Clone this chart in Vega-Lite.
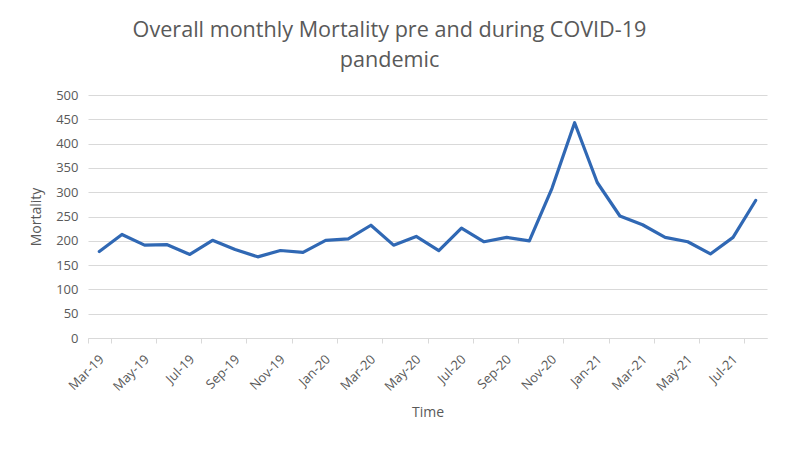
{
  "$schema": "https://vega.github.io/schema/vega-lite/v6.json",
  "width": 679,
  "height": 243,
  "autosize": {"type": "none"},
  "padding": {"left": 88, "top": 95, "right": 20, "bottom": 111},
  "background": "white",
  "title": {
    "text": ["Overall monthly Mortality pre and during COVID-19", "pandemic"],
    "font": "Open Sans",
    "fontSize": 21.6,
    "fontWeight": "normal",
    "color": "#595959",
    "anchor": "middle",
    "dx": -38,
    "offset": 17,
    "lineHeight": 30
  },
  "data": {
    "values": [
      {"month": "Mar-19", "mortality": 178},
      {"month": "Apr-19", "mortality": 213},
      {"month": "May-19", "mortality": 191},
      {"month": "Jun-19", "mortality": 192},
      {"month": "Jul-19", "mortality": 172},
      {"month": "Aug-19", "mortality": 201},
      {"month": "Sep-19", "mortality": 182},
      {"month": "Oct-19", "mortality": 167},
      {"month": "Nov-19", "mortality": 180},
      {"month": "Dec-19", "mortality": 176},
      {"month": "Jan-20", "mortality": 201},
      {"month": "Feb-20", "mortality": 204},
      {"month": "Mar-20", "mortality": 232},
      {"month": "Apr-20", "mortality": 191},
      {"month": "May-20", "mortality": 209},
      {"month": "Jun-20", "mortality": 180},
      {"month": "Jul-20", "mortality": 226},
      {"month": "Aug-20", "mortality": 198},
      {"month": "Sep-20", "mortality": 207},
      {"month": "Oct-20", "mortality": 200},
      {"month": "Nov-20", "mortality": 308},
      {"month": "Dec-20", "mortality": 443},
      {"month": "Jan-21", "mortality": 320},
      {"month": "Feb-21", "mortality": 251},
      {"month": "Mar-21", "mortality": 233},
      {"month": "Apr-21", "mortality": 207},
      {"month": "May-21", "mortality": 198},
      {"month": "Jun-21", "mortality": 173},
      {"month": "Jul-21", "mortality": 207},
      {"month": "Aug-21", "mortality": 283}
    ]
  },
  "mark": {"type": "line", "color": "#3068b4", "strokeWidth": 3.2, "strokeJoin": "round", "strokeCap": "round"},
  "encoding": {
    "x": {
      "field": "month",
      "type": "ordinal",
      "sort": null,
      "scale": {"type": "band", "paddingInner": 0, "paddingOuter": 0},
      "axis": {
        "title": "Time",
        "values": ["Mar-19", "May-19", "Jul-19", "Sep-19", "Nov-19", "Jan-20", "Mar-20", "May-20", "Jul-20", "Sep-20", "Nov-20", "Jan-21", "Mar-21", "May-21", "Jul-21"],
        "labelAngle": -45,
        "labelAlign": "right",
        "labelBaseline": "middle",
        "labelFont": "Open Sans",
        "labelFontSize": 13,
        "labelColor": "#595959",
        "labelPadding": 14,
        "labelOffset": 2,
        "tickBand": "extent",
        "ticks": true,
        "tickSize": 5,
        "tickColor": "#d9d9d9",
        "domainColor": "#d9d9d9",
        "domainWidth": 1,
        "grid": false,
        "titleFont": "Open Sans",
        "titleFontSize": 14,
        "titleFontWeight": "normal",
        "titleColor": "#595959",
        "titlePadding": 12
      }
    },
    "y": {
      "field": "mortality",
      "type": "quantitative",
      "scale": {"domain": [0, 500], "nice": false},
      "axis": {
        "title": "Mortality",
        "values": [0, 50, 100, 150, 200, 250, 300, 350, 400, 450, 500],
        "ticks": false,
        "domain": false,
        "grid": true,
        "gridColor": "#d9d9d9",
        "gridWidth": 1,
        "labelFont": "Open Sans",
        "labelFontSize": 13,
        "labelColor": "#595959",
        "labelPadding": 10,
        "titleFont": "Open Sans",
        "titleFontSize": 14,
        "titleFontWeight": "normal",
        "titleColor": "#595959",
        "titlePadding": 12
      }
    }
  },
  "config": {"view": {"stroke": null}}
}
